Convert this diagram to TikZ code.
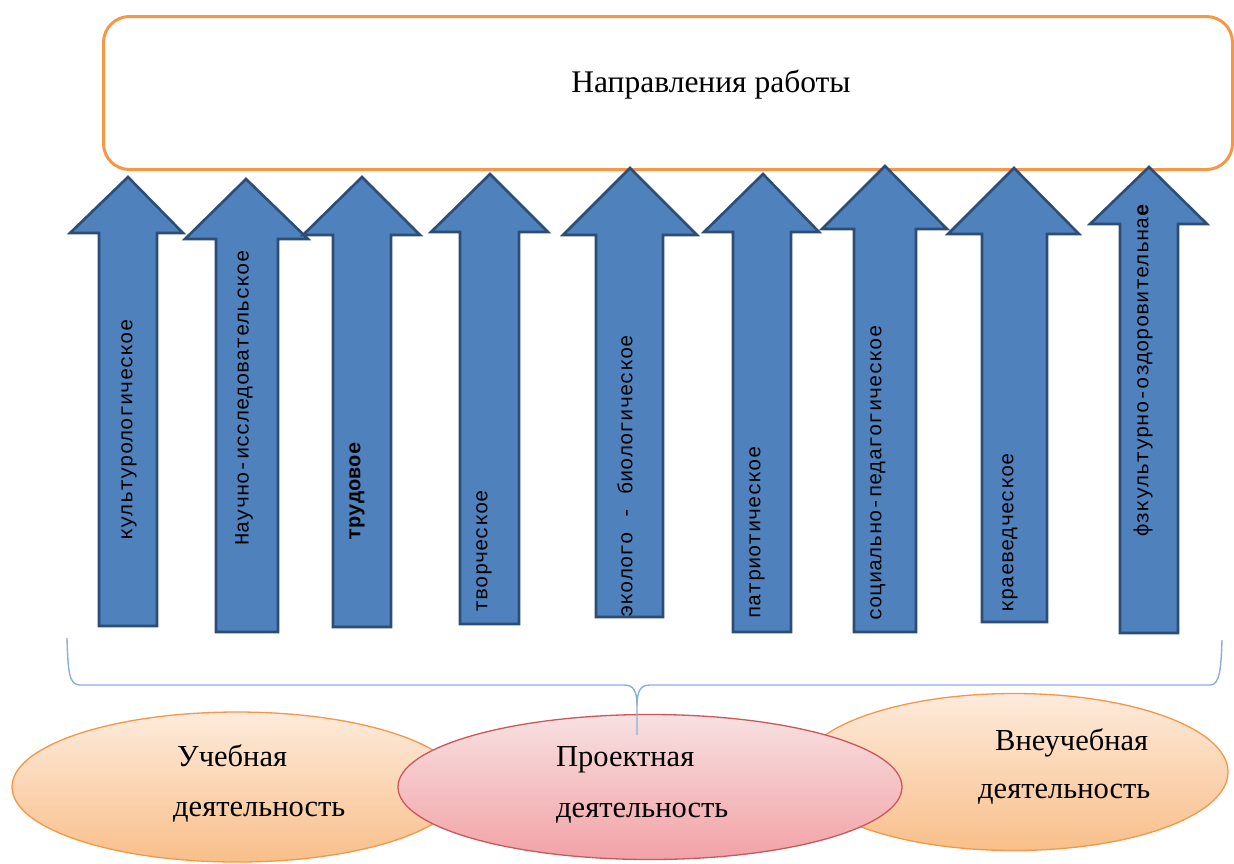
\documentclass[tikz,border=0pt]{standalone}
\usepackage{fontspec}
\setmainfont{Liberation Serif}
\newfontfamily\monofnt{Liberation Mono}
\usetikzlibrary{shapes.geometric}
\definecolor{arrfill}{HTML}{4F81BD}
\definecolor{arrdraw}{HTML}{2C4D75}
\definecolor{boxor}{HTML}{F79646}
\definecolor{bracec}{HTML}{8AAEDC}
\definecolor{orTop}{HTML}{FDEBDC}
\definecolor{orBot}{HTML}{F9BF8A}
\definecolor{pkTop}{HTML}{F8E0E1}
\definecolor{pkBot}{HTML}{F2A2A6}
\definecolor{pkDraw}{HTML}{C9585A}
\tikzset{
  arrowbody/.style={fill=arrfill, draw=arrdraw, line width=2.6pt, line join=miter},
  vlabel/.style={rotate=90, anchor=west, inner sep=0pt, font=\monofnt\fontsize{20.5}{22}\selectfont},
  topbox/.style={draw=boxor, line width=3pt, rounded corners=26pt, fill=white},
  ovalOr/.style={ellipse, draw=boxor, line width=1.3pt, top color=orTop, bottom color=orBot, inner sep=0pt},
  ovalPk/.style={ellipse, draw=pkDraw, line width=1.3pt, top color=pkTop, bottom color=pkBot, inner sep=0pt},
  otext/.style={anchor=base west, inner sep=0pt, font=\fontsize{30.5}{33}\selectfont},
  bracestyle/.style={draw=bracec, line width=1.4pt}
}
\newcommand\arrowup[8]{\draw[arrowbody] (#6,#8) -- (#6,#5) -- (#3,#5) -- (#1,#2) -- (#4,#5) -- (#7,#5) -- (#7,#8) -- cycle;}
\begin{document}
\begin{tikzpicture}[x=1pt,y=-1pt]
\useasboundingbox (0,0) rectangle (1234,863);
% top box
\node[topbox, minimum width=1129pt, minimum height=153pt, anchor=north west] (top) at (102,15) {};
\node[font=\fontsize{31.5}{34}\selectfont, inner sep=0pt] (toptext) at (711,85) {Направления работы};
% arrows
\arrowup{128}{177}{70}{183}{233}{99}{157}{626}
\arrowup{246}{179}{185}{308}{239}{216}{278}{632}
\arrowup{362}{177}{303}{420}{235}{333}{391}{627}
\arrowup{490}{174}{431}{548}{232}{460}{519}{624}
\arrowup{630}{168}{563}{697}{235}{596}{663}{617}
\arrowup{763}{174}{704}{819}{232}{733}{791}{632}
\arrowup{885}{166}{822}{947}{229}{854}{916}{632}
\arrowup{1014}{168}{948}{1079}{234}{982}{1047}{622}
\arrowup{1149}{167}{1090}{1207}{224}{1120}{1178}{633}
% labels
\node[vlabel] (l1) at (129,541) {культурологическое};
\node[vlabel] (l2) at (244,546) {Научно-исследовательское};
\node[vlabel, font=\monofnt\bfseries\fontsize{20.5}{22}\selectfont] (l3) at (357,541) {трудовое};
\node[vlabel] (l4) at (484,613) {творческое};
\node[vlabel] (l5) at (625,618) {эколого - биологическое};
\node[vlabel] (l6) at (757,619) {патриотическое};
\node[vlabel] (l7) at (878,621) {социально-педагогическое};
\node[vlabel] (l8) at (1010,613) {краеведческое};
\node[vlabel] (l9) at (1143,537) {фзкультурно-оздоровительна\textbf{е}};
% ellipses
\node[ovalOr, minimum width=450pt, minimum height=150pt] (ucheb) at (237,787) {};
\node[ovalOr, minimum width=428pt, minimum height=157pt] (vneuch) at (1014,772) {};
\node[ovalPk, minimum width=504pt, minimum height=145pt] (proekt) at (650,787) {};
% brace
\coordinate (bl) at (67,638);
\coordinate (br) at (1222,640);
\coordinate (bt) at (637,735);
\draw[bracestyle] (bl) .. controls (68,672) and (69,685) .. (80,685) -- (624,685)
  .. controls (633,685) and (637,690) .. (637,706) -- (bt);
\draw[bracestyle] (637,706) .. controls (637,690) and (641,685) .. (650,685) -- (1210,685)
  .. controls (1219,685) and (1221,672) .. (br);
% ellipse texts
\node[otext] (t1a) at (177,766) {Учебная};
\node[otext] (t1b) at (173,816) {деятельность};
\node[otext] (t2a) at (556,766) {Проектная};
\node[otext] (t2b) at (556,817) {деятельность};
\node[otext] (t3a) at (995,750) {Внеучебная};
\node[otext] (t3b) at (978,798) {деятельность};
\end{tikzpicture}
\end{document}
